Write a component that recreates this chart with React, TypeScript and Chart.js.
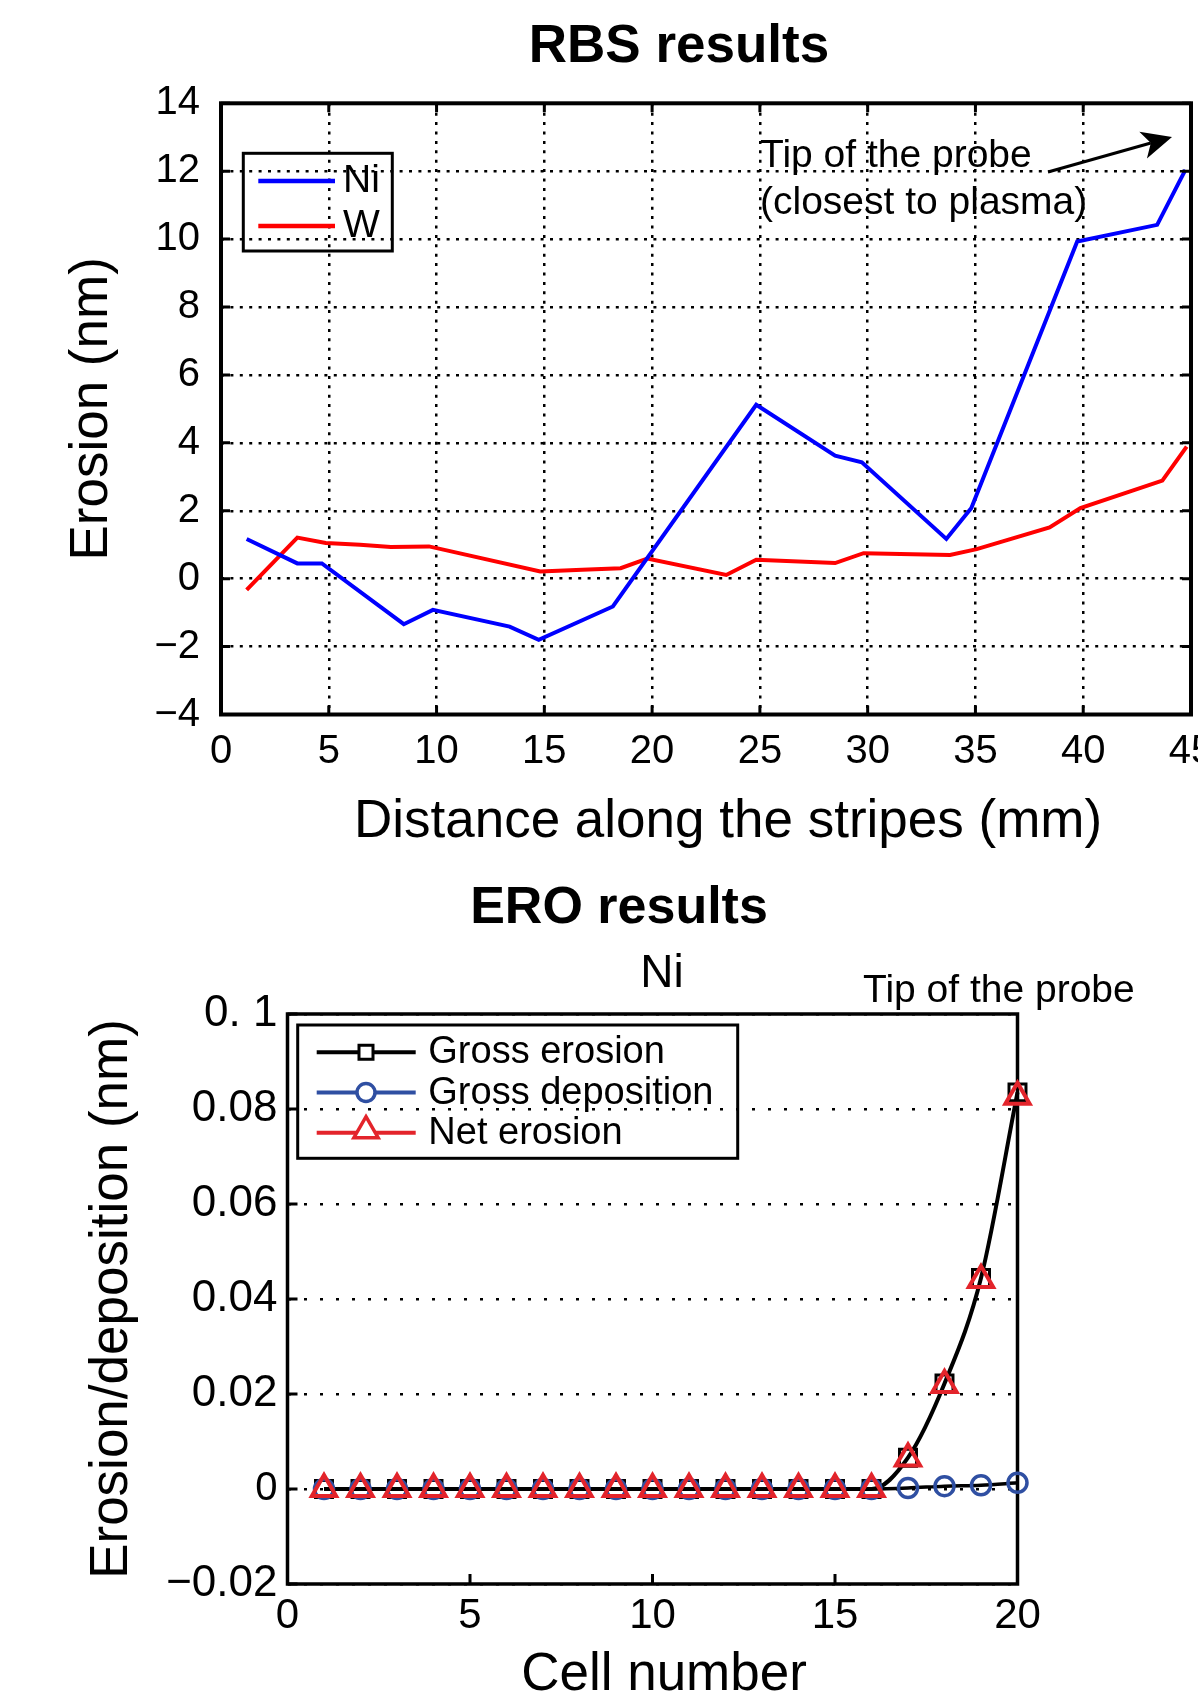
import React, { useEffect, useRef } from 'react';
import { Chart, registerables } from 'chart.js';

Chart.register(...registerables);

const FONT = '"Liberation Sans", Arial, Helvetica, sans-serif';

// ---------- RBS results (top chart) ----------
const rbsTitle = 'RBS results';
const rbsXLabel = 'Distance along the stripes (mm)';
const rbsYLabel = 'Erosion (nm)';
const rbsNote = ['Tip of the probe', '(closest to plasma)'];
const rbsXTicks = [0, 5, 10, 15, 20, 25, 30, 35, 40, 45];
const rbsXTickLabels = ['0', '5', '10', '15', '20', '25', '30', '35', '40', '45'];
const rbsYTicks = [-4, -2, 0, 2, 4, 6, 8, 10, 12, 14];
const rbsYTickLabels = ['\u22124', '\u22122', '0', '2', '4', '6', '8', '10', '12', '14'];

const niDistance = [1.19, 3.54, 4.68, 8.48, 9.83, 13.39, 14.74, 18.18, 24.83, 28.49, 29.73, 33.65, 34.81, 39.72, 43.43, 44.74];
const niErosion = [1.17, 0.45, 0.45, -1.34, -0.92, -1.41, -1.8, -0.82, 5.12, 3.62, 3.43, 1.17, 2.08, 9.93, 10.42, 12.04];
const wDistance = [1.19, 3.54, 4.86, 6.45, 7.88, 9.65, 14.81, 16.76, 18.54, 19.78, 23.44, 24.83, 28.49, 29.81, 31.51, 33.82, 35.06, 38.44, 39.87, 43.67, 44.8];
const wErosion = [-0.33, 1.21, 1.05, 1.0, 0.93, 0.95, 0.21, 0.26, 0.31, 0.59, 0.11, 0.56, 0.46, 0.75, 0.73, 0.7, 0.87, 1.51, 2.08, 2.89, 3.89];

// ---------- ERO results (bottom chart) ----------
const eroTitle = 'ERO results';
const eroSubtitle = 'Ni';
const eroNote = 'Tip of the probe';
const eroXLabel = 'Cell number';
const eroYLabel = 'Erosion/deposition (nm)';
const eroXTicks = [0, 5, 10, 15, 20];
const eroXTickLabels = ['0', '5', '10', '15', '20'];
const eroYTicks = [-0.02, 0, 0.02, 0.04, 0.06, 0.08, 0.1];
const eroYTickLabels = ['\u22120.02', '0', '0.02', '0.04', '0.06', '0.08', '0. 1'];

const cells = [1, 2, 3, 4, 5, 6, 7, 8, 9, 10, 11, 12, 13, 14, 15, 16, 17, 18, 19, 20];
const grossErosion = [0, 0, 0, 0, 0, 0, 0, 0, 0, 0, 0, 0, 0, 0, 0, 0, 0.0066, 0.0222, 0.0444, 0.0835];
const grossDeposition = [0, 0, 0, 0, 0, 0, 0, 0, 0, 0, 0, 0, 0, 0, 0, 0, 0.0002, 0.0006, 0.0008, 0.0013];
const netErosion = [0, 0, 0, 0, 0, 0, 0, 0, 0, 0, 0, 0, 0, 0, 0, 0, 0.0064, 0.0219, 0.044, 0.0826];

const BLUE_MARK = '#2F4FA2';
const RED_MARK = '#E3242B';

function framePlugin(id: string, lw: number, tickLen: number, tickW: number, allSides: boolean, before: boolean) {
  const draw = (chart: any) => {
    const { ctx, chartArea: a, scales } = chart;
    ctx.save();
    ctx.strokeStyle = '#000';
    ctx.lineWidth = tickW;
    ctx.setLineDash([]);
    ctx.beginPath();
    for (const t of scales.x.ticks) {
      const px = scales.x.getPixelForValue(t.value);
      ctx.moveTo(px, a.bottom);
      ctx.lineTo(px, a.bottom - tickLen);
      if (allSides) {
        ctx.moveTo(px, a.top);
        ctx.lineTo(px, a.top + tickLen);
      }
    }
    for (const t of scales.y.ticks) {
      const py = scales.y.getPixelForValue(t.value);
      ctx.moveTo(a.left, py);
      ctx.lineTo(a.left + tickLen, py);
      if (allSides) {
        ctx.moveTo(a.right, py);
        ctx.lineTo(a.right - tickLen, py);
      }
    }
    ctx.stroke();
    ctx.lineWidth = lw;
    ctx.strokeRect(a.left, a.top, a.right - a.left, a.bottom - a.top);
    ctx.restore();
  };
  return before ? { id, beforeDatasetsDraw: draw } : { id, afterDatasetsDraw: draw };
}

const topText = {
  id: 'topText',
  afterDraw(chart: any) {
    const { ctx } = chart;
    ctx.save();
    ctx.fillStyle = '#000';
    ctx.strokeStyle = '#000';
    ctx.textBaseline = 'alphabetic';
    // title
    ctx.font = `bold 53px ${FONT}`;
    ctx.textAlign = 'center';
    ctx.fillText(rbsTitle, 679, 62);
    // x-axis title
    ctx.font = `53px ${FONT}`;
    ctx.fillText(rbsXLabel, 728, 837.3);
    // note
    ctx.font = `39px ${FONT}`;
    ctx.textAlign = 'left';
    ctx.fillText(rbsNote[0], 760, 167);
    ctx.fillText(rbsNote[1], 760, 214);
    // arrow
    const x0 = 1048, y0 = 172, x1 = 1172, y1 = 137;
    const ang = Math.atan2(y1 - y0, x1 - x0);
    const ux = Math.cos(ang), uy = Math.sin(ang);
    const nx = -uy, ny = ux;
    const L = 30, W = 14, N = 22;
    ctx.lineWidth = 3;
    ctx.beginPath();
    ctx.moveTo(x0, y0);
    ctx.lineTo(x1 - ux * N, y1 - uy * N);
    ctx.stroke();
    ctx.beginPath();
    ctx.moveTo(x1, y1);
    ctx.lineTo(x1 - ux * L + nx * W, y1 - uy * L + ny * W);
    ctx.lineTo(x1 - ux * N, y1 - uy * N);
    ctx.lineTo(x1 - ux * L - nx * W, y1 - uy * L - ny * W);
    ctx.closePath();
    ctx.fill();
    // legend
    const bx = 243.3, by = 153.3, bw = 149, bh = 97.7;
    ctx.lineWidth = 3;
    ctx.strokeRect(bx, by, bw, bh);
    ctx.font = `39px ${FONT}`;
    chart.data.datasets.forEach((ds: any, i: number) => {
      const ry = 181 + i * 45;
      ctx.strokeStyle = ds.borderColor;
      ctx.lineWidth = 4.5;
      ctx.beginPath();
      ctx.moveTo(258.3, ry);
      ctx.lineTo(335, ry);
      ctx.stroke();
      ctx.fillStyle = '#000';
      ctx.fillText(ds.label, 343, ry + 10.7);
    });
    ctx.restore();
  },
};

const bottomText = {
  id: 'bottomText',
  afterDraw(chart: any) {
    const { ctx } = chart;
    ctx.save();
    ctx.fillStyle = '#000';
    ctx.textBaseline = 'alphabetic';
    ctx.font = `bold 52px ${FONT}`;
    ctx.textAlign = 'center';
    ctx.fillText(eroTitle, 619, 63.3);
    ctx.font = `46px ${FONT}`;
    ctx.fillText(eroSubtitle, 662, 126.5);
    // x-axis title
    ctx.font = `53px ${FONT}`;
    ctx.fillText(eroXLabel, 664, 830);
    ctx.font = `39px ${FONT}`;
    ctx.textAlign = 'left';
    ctx.fillText(eroNote, 863, 141.5);
    // legend
    const bx = 297.7, by = 165, bw = 440, bh = 133.3;
    ctx.strokeStyle = '#000';
    ctx.lineWidth = 3;
    ctx.strokeRect(bx, by, bw, bh);
    ctx.font = `38px ${FONT}`;
    chart.data.datasets.forEach((ds: any, i: number) => {
      const ry = 192.3 + i * 40.2;
      const col = ds.legendColor;
      ctx.strokeStyle = col;
      ctx.lineWidth = 4;
      ctx.beginPath();
      ctx.moveTo(316.7, ry);
      ctx.lineTo(415.7, ry);
      ctx.stroke();
      const mx = 366;
      ctx.lineWidth = ds.pointStyle === 'rect' ? 3 : 3.5;
      ctx.beginPath();
      if (ds.pointStyle === 'rect') {
        ctx.rect(mx - 7, ry - 7, 14, 14);
      } else if (ds.pointStyle === 'circle') {
        ctx.arc(mx, ry, 9, 0, Math.PI * 2);
      } else {
        const r = 14;
        const cy = ry - 2;
        ctx.moveTo(mx, cy - r);
        ctx.lineTo(mx + r * 0.866, cy + r * 0.5);
        ctx.lineTo(mx - r * 0.866, cy + r * 0.5);
        ctx.closePath();
      }
      ctx.fillStyle = '#fff';
      ctx.fill();
      ctx.stroke();
      ctx.fillStyle = '#000';
      ctx.fillText(ds.label, 428.3, ry + 11);
    });
    ctx.restore();
  },
};

export default function App() {
  const topRef = useRef<HTMLCanvasElement>(null);
  const botRef = useRef<HTMLCanvasElement>(null);

  useEffect(() => {
    const top = new Chart(topRef.current as HTMLCanvasElement, {
      type: 'line',
      data: {
        datasets: [
          {
            label: 'Ni',
            data: niDistance.map((x, i) => ({ x, y: niErosion[i] })),
            borderColor: '#0000FF',
            borderWidth: 4,
            pointRadius: 0,
            fill: false,
            tension: 0,
          },
          {
            label: 'W',
            data: wDistance.map((x, i) => ({ x, y: wErosion[i] })),
            borderColor: '#FF0000',
            borderWidth: 4,
            pointRadius: 0,
            fill: false,
            tension: 0,
          },
        ],
      },
      options: {
        responsive: false,
        animation: false,
        devicePixelRatio: 1,
        events: [],
        layout: { padding: { left: 0, right: 7, top: 103.3, bottom: 0 } },
        plugins: { legend: { display: false }, title: { display: false }, tooltip: { enabled: false } },
        scales: {
          x: {
            type: 'linear',
            min: 0,
            max: 45,
            afterBuildTicks: (s: any) => {
              s.ticks = rbsXTicks.map((v) => ({ value: v }));
            },
            afterFit: (s: any) => {
              s.height = 145.5;
              s.paddingLeft = 0;
              s.paddingRight = 0;
            },
            ticks: {
              autoSkip: false,
              maxRotation: 0,
              color: '#000',
              padding: 13.6,
              font: { family: FONT, size: 40 },
              callback: (_v: any, i: number) => rbsXTickLabels[i],
            },
            grid: { color: '#000', lineWidth: 2.5, drawTicks: false },
            border: { display: false, dash: [3, 6.4] },
            title: { display: false, text: rbsXLabel },
          },
          y: {
            type: 'linear',
            min: -4,
            max: 14,
            afterBuildTicks: (s: any) => {
              s.ticks = rbsYTicks.map((v) => ({ value: v }));
            },
            afterFit: (s: any) => {
              s.width = 221;
              s.paddingTop = 0;
              s.paddingBottom = 0;
            },
            ticks: {
              autoSkip: false,
              color: '#000',
              padding: 21,
              font: { family: FONT, size: 40 },
              callback: (_v: any, i: number) => rbsYTickLabels[i],
            },
            grid: { color: '#000', lineWidth: 2.5, drawTicks: false },
            border: { display: false, dash: [3, 6.4] },
            title: {
              display: true,
              text: rbsYLabel,
              color: '#000',
              font: { family: FONT, size: 53, lineHeight: 1 },
              padding: { top: 65.6, bottom: 0 },
            },
          },
        },
      },
      plugins: [framePlugin('frameTop', 4, 9, 3, true, false), topText],
    } as any);

    const bottom = new Chart(botRef.current as HTMLCanvasElement, {
      type: 'line',
      data: {
        datasets: [
          {
            label: 'Gross erosion',
            data: cells.map((x, i) => ({ x, y: grossErosion[i] })),
            borderColor: '#000',
            borderWidth: 4,
            cubicInterpolationMode: 'monotone',
            pointStyle: 'rect',
            pointRadius: 12,
            pointBorderWidth: 3,
            pointBorderColor: '#000',
            pointBackgroundColor: 'rgba(0,0,0,0)',
            fill: false,
            clip: false,
            order: 3,
            legendColor: '#000',
          },
          {
            label: 'Gross deposition',
            data: cells.map((x, i) => ({ x, y: grossDeposition[i] })),
            borderColor: '#000',
            borderWidth: 3.5,
            cubicInterpolationMode: 'monotone',
            pointStyle: 'circle',
            pointRadius: 9.5,
            pointBorderWidth: 3.5,
            pointBorderColor: BLUE_MARK,
            pointBackgroundColor: 'rgba(0,0,0,0)',
            fill: false,
            clip: false,
            order: 2,
            legendColor: BLUE_MARK,
          },
          {
            label: 'Net erosion',
            data: cells.map((x, i) => ({ x, y: netErosion[i] })),
            borderColor: RED_MARK,
            showLine: false,
            pointStyle: 'triangle',
            pointRadius: 14,
            pointBorderWidth: 4,
            pointBorderColor: RED_MARK,
            pointBackgroundColor: 'rgba(0,0,0,0)',
            fill: false,
            clip: false,
            order: 1,
            legendColor: RED_MARK,
          },
        ],
      },
      options: {
        responsive: false,
        animation: false,
        devicePixelRatio: 1,
        events: [],
        layout: { padding: { left: 0, right: 180.5, top: 154, bottom: 0 } },
        plugins: { legend: { display: false }, title: { display: false }, tooltip: { enabled: false } },
        scales: {
          x: {
            type: 'linear',
            min: 0,
            max: 20,
            afterBuildTicks: (s: any) => {
              s.ticks = eroXTicks.map((v) => ({ value: v }));
            },
            afterFit: (s: any) => {
              s.height = 112;
              s.paddingLeft = 0;
              s.paddingRight = 0;
            },
            ticks: {
              autoSkip: false,
              maxRotation: 0,
              color: '#000',
              padding: 7,
              font: { family: FONT, size: 42 },
              callback: (_v: any, i: number) => eroXTickLabels[i],
            },
            grid: { display: false, drawTicks: false },
            border: { display: false },
            title: { display: false, text: eroXLabel },
          },
          y: {
            type: 'linear',
            min: -0.02,
            max: 0.1,
            afterBuildTicks: (s: any) => {
              s.ticks = eroYTicks.map((v) => ({ value: v }));
            },
            afterFit: (s: any) => {
              s.width = 287.5;
              s.paddingTop = 0;
              s.paddingBottom = 0;
            },
            ticks: {
              autoSkip: false,
              color: '#000',
              padding: 10,
              font: (c: any) => ({ family: FONT, size: c.tick && c.tick.value === 0 ? 40 : 44 }),
              callback: (_v: any, i: number) => eroYTickLabels[i],
            },
            grid: { color: '#000', lineWidth: 2.5, drawTicks: false },
            border: { display: false, dash: [3, 13] },
            title: {
              display: true,
              text: eroYLabel,
              color: '#000',
              font: { family: FONT, size: 53, lineHeight: 1 },
              padding: { top: 86.3, bottom: 0 },
            },
          },
        },
      },
      plugins: [framePlugin('frameBottom', 3.5, 10, 3, false, true), bottomText],
    } as any);

    return () => {
      top.destroy();
      bottom.destroy();
    };
  }, []);

  return (
    <div
      style={{
        position: 'absolute',
        left: 0,
        top: 0,
        width: 1198,
        height: 1696,
        background: '#fff',
        overflow: 'hidden',
      }}
    >
      <canvas
        ref={topRef}
        width={1198}
        height={860}
        style={{ position: 'absolute', left: 0, top: 0, width: 1198, height: 860 }}
      />
      <canvas
        ref={botRef}
        width={1198}
        height={836}
        style={{ position: 'absolute', left: 0, top: 860, width: 1198, height: 836 }}
      />
    </div>
  );
}
